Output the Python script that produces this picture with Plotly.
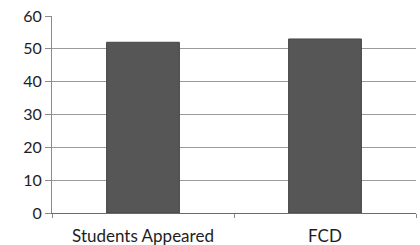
import plotly.graph_objects as go

categories = ["Students Appeared", "FCD"]
values = [52, 53]
y_ticks = [0, 10, 20, 30, 40, 50, 60]

fig = go.Figure(go.Bar(
    x=categories, y=values,
    marker=dict(color="#565656", line=dict(color="#464646", width=1)),
    width=0.4,
))
fig.update_layout(
    width=420, height=245,
    margin=dict(l=52, r=4, t=16, b=32, autoexpand=False),
    paper_bgcolor="white", plot_bgcolor="white",
    font=dict(family="Lato", size=17, color="#1e1e1e"),
    showlegend=False,
    bargap=0.6,
)
fig.update_yaxes(
    range=[0, 60], tickvals=y_ticks, showgrid=True, gridcolor="#9a9a9a", gridwidth=1,
    showline=True, linecolor="#8a8a8a", ticks="outside", ticklen=6, tickcolor="#8a8a8a",
    zeroline=False, tickfont=dict(size=16), automargin=False,
)
fig.update_xaxes(
    showline=True, linecolor="#6a6a6a", ticks="outside", tickson="boundaries",
    ticklen=4, tickcolor="#8a8a8a", tickfont=dict(size=17), ticklabelstandoff=8,
    automargin=False,
)
fig.write_html(
    "out.html",
    config={"displayModeBar": False},
    post_script="document.body.style.margin='0';document.body.style.overflow='hidden';",
)
